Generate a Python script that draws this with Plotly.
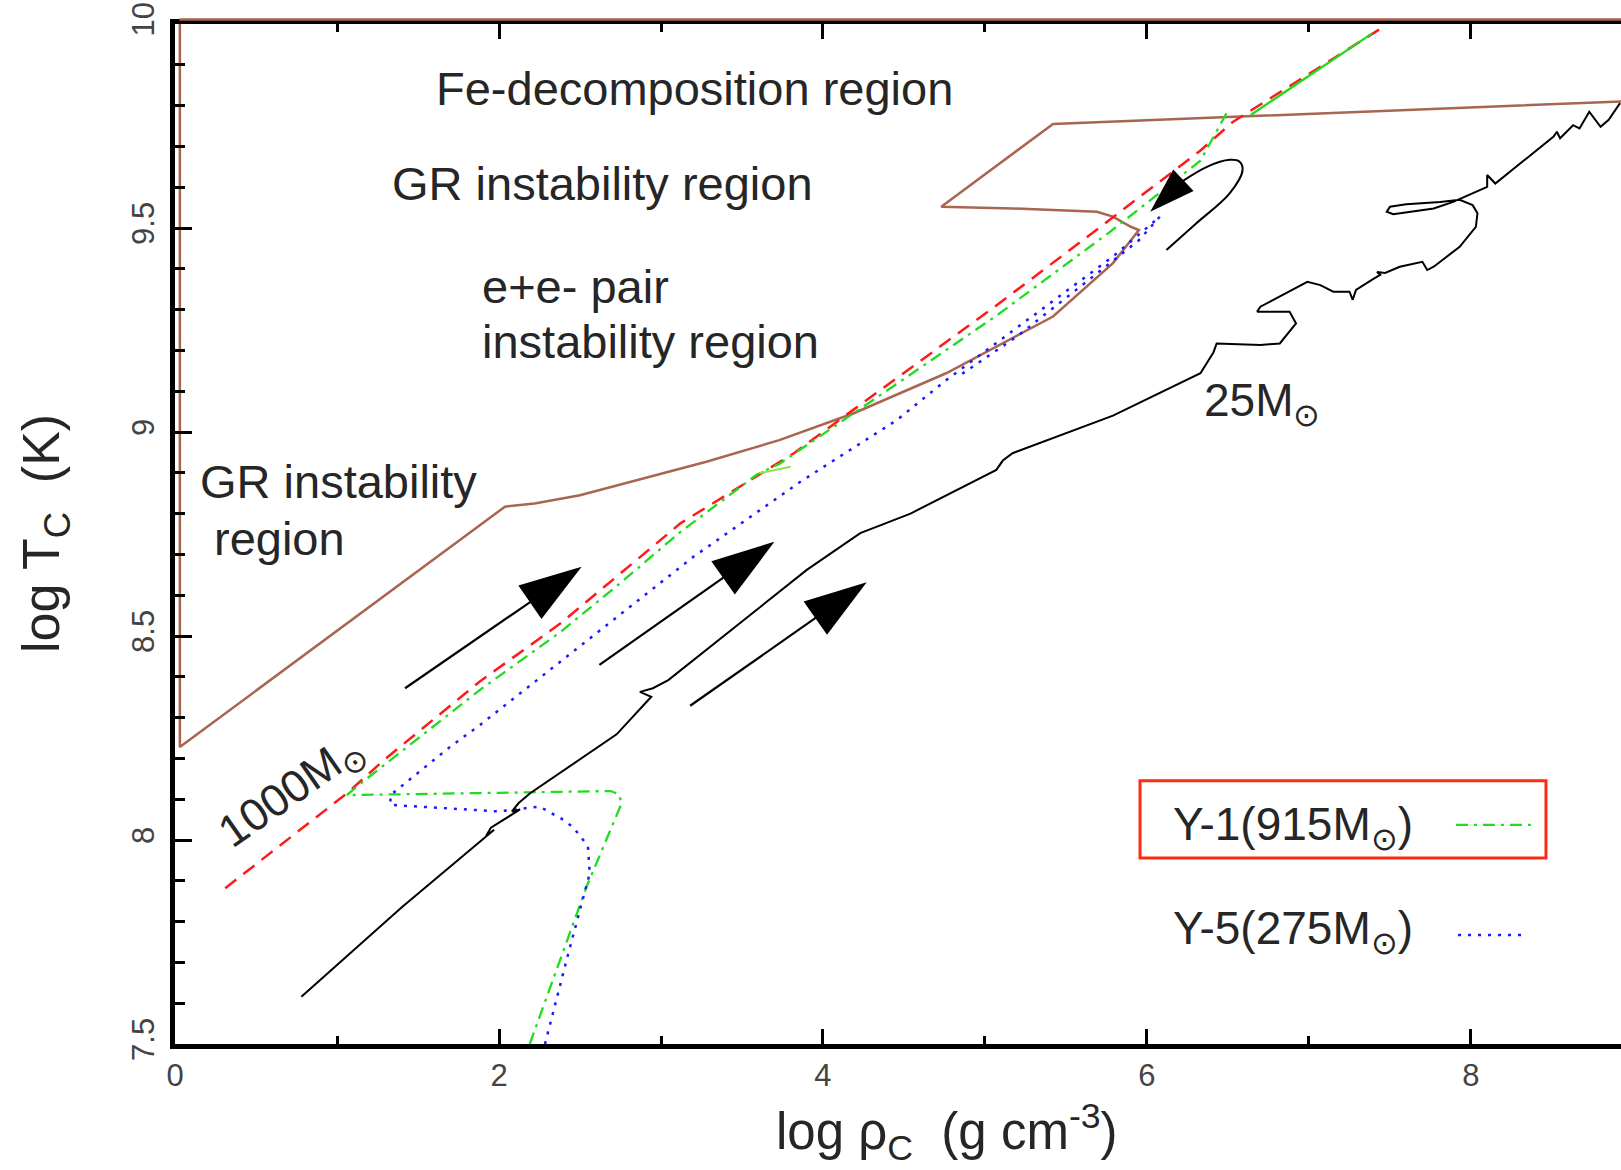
import plotly.graph_objects as go

# ---- evolutionary tracks in the (log rho_c, log T_c) plane ----

# boundary of the GR / pair-instability / Fe-decomposition regions
BOUNDARY_X = [0.03, 0.03, 2.037, 2.22, 2.5, 2.81, 3.28, 3.73, 4.19, 4.76, 5.42, 5.79,
              5.95, 5.9, 5.79, 5.69, 5.17, 4.73, 5.42, 8.93]
BOUNDARY_Y = [10.0, 8.228, 8.817, 8.825, 8.845, 8.878, 8.927, 8.98, 9.046, 9.144, 9.283,
              9.414, 9.495, 9.503, 9.528, 9.54, 9.548, 9.552, 9.755, 9.81]

# 1000 Msun track
M1000_X = [0.31, 1.06, 1.29, 1.88, 2.38, 2.75, 3.12, 3.82, 5.07, 5.77, 6.33, 6.53, 7.46]
M1000_Y = [7.882, 8.114, 8.196, 8.388, 8.531, 8.654, 8.776, 8.948, 9.31, 9.52, 9.69, 9.76, 9.993]

# Y-1 (915 Msun)
Y1_X = [2.19, 2.54, 2.757, 2.74, 2.69, 1.9, 1.06, 1.12, 1.25, 1.883, 2.38, 2.75, 3.12,
        3.59, 3.735, 4.5, 5.07, 5.77, 6.33, 6.49]
Y1_Y = [7.5, 7.885, 8.09, 8.112, 8.12, 8.116, 8.11, 8.13, 8.171, 8.368, 8.51, 8.63, 8.755,
        8.895, 8.923, 9.13, 9.285, 9.49, 9.665, 9.781]
Y1_LATE_X = [6.64, 7.39]
Y1_LATE_Y = [9.777, 9.977]
Y1_BLIP_X = [3.61, 3.80]
Y1_BLIP_Y = [8.899, 8.915]

# Y-5 (275 Msun)
Y5_X = [2.284, 2.42, 2.56, 2.55, 2.52, 2.46, 2.40, 2.25, 2.0, 1.33, 1.33, 1.70, 1.883,
        2.603, 3.2, 3.86, 4.455, 4.76, 5.79, 6.08, 5.95, 5.6, 5.2, 4.85]
Y5_Y = [7.5, 7.71, 7.918, 7.98, 8.0, 8.03, 8.049, 8.082, 8.07, 8.086, 8.11, 8.229, 8.282,
        8.507, 8.694, 8.878, 9.029, 9.127, 9.43, 9.528, 9.47, 9.36, 9.235, 9.14]

# 25 Msun track
M25_X = [0.78, 1.40, 1.97, 1.92, 1.95, 2.13, 2.08, 2.12, 2.19, 2.726, 2.94, 2.87, 2.95,
         3.045, 3.9, 4.23, 4.54, 5.07, 5.11, 5.17, 5.79, 6.33, 6.41, 6.43, 6.70, 6.82,
         6.92, 6.88, 6.68, 6.70, 6.99, 7.07, 7.15, 7.25, 7.27, 7.29, 7.40, 7.44, 7.42,
         7.47, 7.56, 7.70, 7.73, 7.77, 7.93, 8.03, 8.04, 8.01, 7.93, 7.81, 7.60, 7.50,
         7.48, 7.52, 7.77, 7.89, 8.10, 8.10, 8.15, 8.51, 8.53, 8.55, 8.63, 8.67, 8.73,
         8.80, 8.85, 8.92]
M25_Y = [7.616, 7.835, 8.025, 8.01, 8.03, 8.075, 8.07, 8.09, 8.114, 8.259, 8.351, 8.363,
         8.372, 8.392, 8.662, 8.752, 8.80, 8.907, 8.93, 8.948, 9.04, 9.144, 9.195, 9.217,
         9.213, 9.217, 9.266, 9.295, 9.295, 9.307, 9.368, 9.36, 9.344, 9.344, 9.324,
         9.348, 9.376, 9.385, 9.392, 9.39, 9.405, 9.417, 9.397, 9.405, 9.454, 9.503,
         9.536, 9.556, 9.569, 9.564, 9.558, 9.552, 9.54, 9.534, 9.548, 9.564, 9.601,
         9.63, 9.609, 9.724, 9.736, 9.72, 9.752, 9.744, 9.785, 9.748, 9.765, 9.806]

# curved return arrow near the Fe-decomposition boundary
HOOK_X = [6.12, 6.30, 6.51, 6.59, 6.57, 6.51, 6.37, 6.22]
HOOK_Y = [9.446, 9.51, 9.585, 9.642, 9.663, 9.667, 9.65, 9.615]
HOOK_TIP_X = 6.02
HOOK_TIP_Y = 9.54

# straight arrows showing the direction of evolution (tail -> tip)
ARROW_TAIL_X = [1.42, 2.62, 3.18]
ARROW_TAIL_Y = [8.372, 8.429, 8.329]
ARROW_TIP_X = [2.51, 3.70, 4.27]
ARROW_TIP_Y = [8.67, 8.731, 8.632]

X_TICKS = [0, 2, 4, 6, 8]
Y_TICKS = [7.5, 8, 8.5, 9, 9.5, 10]
Y_TICK_TEXT = ["7.5", "8", "8.5", "9", "9.5", "10"]

FONT = "Liberation Sans, Arial, Helvetica, sans-serif"
TEXT = "#262626"
BROWN = "#a8654f"
RED = "#ff1a1a"
GREEN = "#1fdc1f"
BLUE = "#1a1aff"
INK = "#000000"

fig = go.Figure()

fig.add_trace(go.Scatter(x=BOUNDARY_X, y=BOUNDARY_Y, mode="lines",
                         line=dict(color=BROWN, width=2.5), name="boundary"))
fig.add_trace(go.Scatter(x=M1000_X, y=M1000_Y, mode="lines",
                         line=dict(color=RED, width=2.5, dash="14px,9px"), name="1000M"))
fig.add_trace(go.Scatter(x=Y1_X, y=Y1_Y, mode="lines",
                         line=dict(color=GREEN, width=2.3, dash="12px,6px,3px,6px"), name="Y-1"))
fig.add_trace(go.Scatter(x=Y1_LATE_X, y=Y1_LATE_Y, mode="lines",
                         line=dict(color=GREEN, width=2.3), name="Y-1 late"))
fig.add_trace(go.Scatter(x=Y1_BLIP_X, y=Y1_BLIP_Y, mode="lines",
                         line=dict(color="#8ee24a", width=2), name="Y-1 blip"))
fig.add_trace(go.Scatter(x=Y5_X, y=Y5_Y, mode="lines",
                         line=dict(color=BLUE, width=2.5, dash="3px,7px"), name="Y-5"))
fig.add_trace(go.Scatter(x=M25_X, y=M25_Y, mode="lines",
                         line=dict(color="black", width=2), name="25M"))
fig.add_trace(go.Scatter(x=HOOK_X, y=HOOK_Y, mode="lines", line_shape="spline",
                         line=dict(color="black", width=2), name="hook"))

# arrow heads are drawn as oriented "arrow" markers at the tip of each shaft
for tx, ty, hx, hy in zip(ARROW_TAIL_X, ARROW_TAIL_Y, ARROW_TIP_X, ARROW_TIP_Y):
    fig.add_trace(go.Scatter(x=[tx, hx], y=[ty, hy], mode="lines+markers",
                             line=dict(color=INK, width=2.2),
                             marker=dict(symbol="arrow", size=[0, 66], angleref="previous",
                                         color=INK, opacity=1, line=dict(width=0)),
                             name="direction"))
fig.add_trace(go.Scatter(x=[HOOK_X[-1], HOOK_TIP_X], y=[HOOK_Y[-1], HOOK_TIP_Y],
                         mode="lines+markers", line=dict(color=INK, width=2),
                         marker=dict(symbol="arrow", size=[0, 48], angleref="previous",
                                     color=INK, opacity=1, line=dict(width=0)),
                         name="direction"))

annotations = []


def label(text, x, y, size=47, xanchor="left", angle=0):
    annotations.append(dict(text=text, x=x, y=y, xref="x", yref="y", showarrow=False,
                            xanchor=xanchor, yanchor="middle", textangle=angle,
                            font=dict(family=FONT, size=size, color=TEXT)))


label("Fe-decomposition region", 1.60, 9.843)
label("GR instability region", 1.33, 9.61)
label("e+e- pair", 1.88, 9.356)
label("instability region", 1.88, 9.221)
label("GR instability", 0.145, 8.878)
label("region", 0.228, 8.739)
label("25M<sub>⊙</sub>", 6.34, 9.07, size=46)
label("1000M<sub>⊙</sub>", 0.725, 8.12, size=45, xanchor="center", angle=-35)
label("Y-1(915M<sub>⊙</sub>)", 6.148, 8.03, size=46)
label("Y-5(275M<sub>⊙</sub>)", 6.148, 7.775, size=46)

# axis titles
annotations.append(dict(text="log ρ<sub>C</sub>  (g cm<sup>-3</sup>)", x=3.70, y=-0.086,
                        xref="x", yref="paper", xanchor="left", yanchor="middle",
                        showarrow=False, font=dict(family=FONT, size=51, color=TEXT)))
annotations.append(dict(text="log T<sub>C</sub>  (K)", x=-0.0899, y=0.50, xref="paper",
                        yref="paper", xanchor="center", yanchor="middle", textangle=-90,
                        showarrow=False, font=dict(family=FONT, size=52, color=TEXT)))

shapes = [
    # key box around the Y-1 entry
    dict(type="rect", xref="x", yref="y", x0=5.957, x1=8.463, y0=7.956, y1=8.145,
         line=dict(color="#ff2a10", width=3)),
    # legend line samples
    dict(type="line", xref="x", yref="y", x0=7.907, x1=8.37, y0=8.037, y1=8.037,
         line=dict(color=GREEN, width=2.3, dash="12px,6px,3px,6px")),
    dict(type="line", xref="x", yref="y", x0=7.92, x1=8.35, y0=7.767, y1=7.767,
         line=dict(color=BLUE, width=2.5, dash="3px,7px")),
    # boundary running along the upper frame
    dict(type="line", xref="paper", yref="paper", x0=0.003, x1=1.0, y0=1.0045, y1=1.0045,
         line=dict(color=BROWN, width=2.5), layer="above"),
]

fig.update_layout(
    width=1621, height=1170,
    margin=dict(l=175, r=0, t=24, b=126),
    paper_bgcolor="white", plot_bgcolor="white",
    showlegend=False,
    annotations=annotations,
    shapes=shapes,
    xaxis=dict(range=[0, 8.926], tickvals=X_TICKS, ticks="inside", ticklen=15,
               tickwidth=3, tickcolor="black", showline=True, linewidth=4.5,
               linecolor="black", mirror="ticks", showgrid=False, zeroline=False,
               tickfont=dict(family=FONT, size=31, color="#444444"),
               minor=dict(tickvals=[1, 3, 5, 7], ticks="inside", ticklen=8,
                          tickwidth=2.5, tickcolor="black", showgrid=False)),
    yaxis=dict(range=[7.5, 10], tickvals=Y_TICKS, ticktext=Y_TICK_TEXT, tickangle=-90,
               ticks="inside", ticklen=17, tickwidth=3, tickcolor="black",
               showline=True, linewidth=4.5, linecolor="black", showgrid=False,
               zeroline=False, ticklabelstandoff=4,
               tickfont=dict(family=FONT, size=31, color="#444444"),
               minor=dict(dtick=0.1, ticks="inside", ticklen=10, tickwidth=2.5,
                          tickcolor="black", showgrid=False)),
    yaxis2=dict(range=[7.5, 10], overlaying="y", side="right", tickvals=Y_TICKS,
                ticks="inside", ticklen=5, tickwidth=2.5, tickcolor="black",
                showticklabels=False, showline=False, showgrid=False, zeroline=False),
)

fig.write_html("out.html")
